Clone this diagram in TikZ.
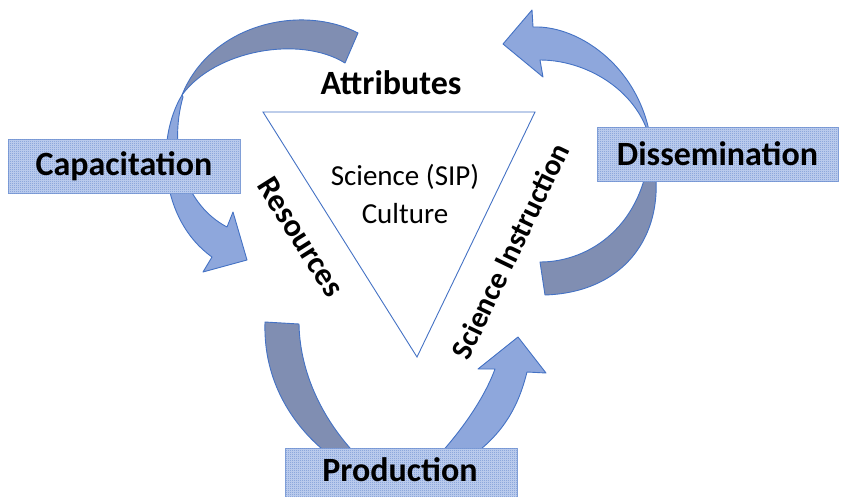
\documentclass[tikz,border=0pt]{standalone}
\usepackage{fontspec}
\setmainfont{Carlito}
\usetikzlibrary{patterns}
\pgfdeclarepatternformonly{finechecker}{\pgfpointorigin}{\pgfpoint{2pt}{2pt}}{\pgfpoint{2pt}{2pt}}{%
  \pgfpathrectangle{\pgfpointorigin}{\pgfpoint{1pt}{1pt}}%
  \pgfpathrectangle{\pgfpoint{1pt}{1pt}}{\pgfpoint{1pt}{1pt}}%
  \pgfusepath{fill}}
\definecolor{edgeblue}{RGB}{68,114,196}
\definecolor{backband}{RGB}{128,142,178}
\definecolor{frontband}{RGB}{142,167,220}
\definecolor{boxbg}{RGB}{196,211,240}
\definecolor{boxdot}{RGB}{112,145,210}
\definecolor{boxedge}{RGB}{130,160,216}
\tikzset{
  backpart/.style={fill=backband, draw=edgeblue, line width=0.9pt, line join=round},
  frontpart/.style={fill=frontband, draw=edgeblue, line width=0.9pt, line join=round},
  labelbox/.style={rectangle, draw=boxedge, line width=0.9pt, fill=boxbg,
    postaction={pattern=finechecker, pattern color=boxdot},
    font=\fontsize{34}{40}\selectfont\bfseries, inner sep=0pt},
  sidelabel/.style={font=\fontsize{34}{40}\selectfont\bfseries, inner sep=0pt},
  corelabel/.style={font=\fontsize{29}{38}\selectfont, align=center, inner sep=0pt}
}
\begin{document}
\begin{tikzpicture}[x=1pt,y=-1pt]
\useasboundingbox (0,0) rectangle (841,496);
% triangle
\coordinate (tl) at (263,112);
\coordinate (tr) at (535,112);
\coordinate (bt) at (417,357);
\draw[edgeblue, line width=0.9pt] (tl) -- (tr) -- (bt) -- cycle;

% arrow 1 (top-left, towards Resources)
\path[backpart] (358,33) .. controls (300,3) and (210,25) .. (182,95)
   .. controls (215,50) and (300,35) .. (345,63) -- cycle;
\path[frontpart] (182,95) .. controls (155,140) and (160,220) .. (212,257)
   -- (203,272) -- (247,260) -- (233,212) -- (227,227)
   .. controls (185,205) and (168,150) .. (183,97) -- cycle;

% arrow 2 (bottom, Production)
\path[backpart] (265,322) -- (299,324) .. controls (300,380) and (330,440) .. (390,485)
   .. controls (330,470) and (262,410) .. (265,322) -- cycle;
\path[frontpart] (400,492) .. controls (440,460) and (480,410) .. (495,369)
   -- (478,369) -- (518,337) -- (546,373) -- (527,372)
   .. controls (515,420) and (490,460) .. (400,492) -- cycle;

% arrow 3 (right, Dissemination)
\path[backpart] (650,145) .. controls (672,220) and (635,292) .. (545,295)
   -- (540,262) .. controls (590,262) and (645,225) .. (650,145) -- cycle;
\path[frontpart] (652,150) .. controls (645,95) and (590,60) .. (540,60)
   -- (543,77) -- (503,44) -- (532,10) -- (533,27)
   .. controls (580,25) and (645,70) .. (652,150) -- cycle;

% boxes
\node[labelbox, minimum width=232pt, minimum height=54pt] (cap) at (124,166) {Capacitation};
\node[labelbox, minimum width=241pt, minimum height=54pt] (dis) at (717.5,154) {Dissemination};
\node[labelbox, minimum width=232pt, minimum height=56pt] (pro) at (401,476) {};
\node[font=\fontsize{34}{40}\selectfont\bfseries, inner sep=0pt] (protext) at (400,470) {Production};

% labels
\node[sidelabel] (attr) at (391,83) {Attributes};
\node[sidelabel, font=\fontsize{32}{38}\selectfont\bfseries, rotate=-57.8] (res) at (301,237) {Resources};
\node[sidelabel, font=\fontsize{30}{36}\selectfont\bfseries, rotate=64.3] (sci) at (510,251) {Science Instruction};
\node[corelabel] (core) at (405,194) {Science (SIP)\\Culture};
\end{tikzpicture}
\end{document}
